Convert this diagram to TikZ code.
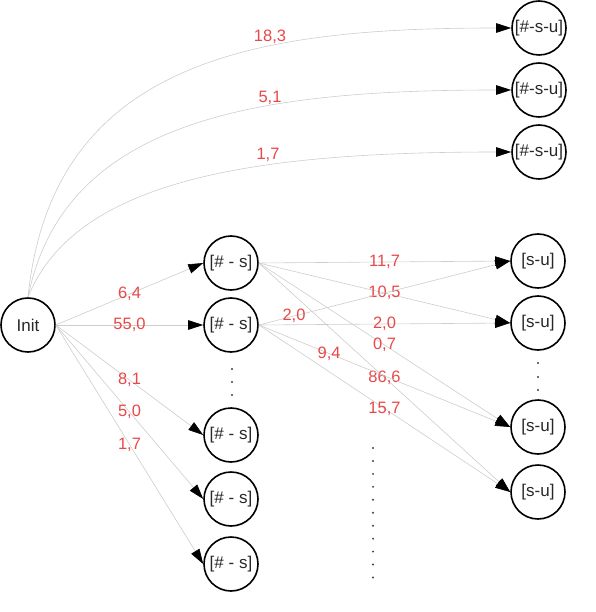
\documentclass[tikz,border=0pt]{standalone}
\usepackage{fontspec}
\setmainfont{Liberation Sans}
\usetikzlibrary{arrows.meta}
\definecolor{lblred}{RGB}{232,72,72}
\definecolor{edgegray}{RGB}{205,205,205}
\definecolor{txtgray}{RGB}{40,40,40}
\begin{document}
\begin{tikzpicture}[x=1pt,y=-1pt,
  state/.style={circle,draw=black,line width=1.6pt,minimum size=54pt,inner sep=0pt,text=txtgray,font=\fontsize{17}{19}\selectfont},
  edge/.style={draw=edgegray,line width=0.6pt,-{Triangle[length=15pt,width=9.5pt,color=black]}},
  lbl/.style={text=lblred,font=\fontsize{16.5}{18}\selectfont,inner sep=1pt},
  vdot/.style={fill=black!75}]
\useasboundingbox (0,0) rectangle (595,612);

\node[state] (init) at (28,325) {Init};
\node[state] (t1) at (539,28) {[\#-s-u]};
\node[state] (t2) at (539,90) {[\#-s-u]};
\node[state] (t3) at (539,152) {[\#-s-u]};

\node[state] (s1) at (231,263) {[\# - s]};
\node[state] (s2) at (231,325) {[\# - s]};
\node[state] (s3) at (231,435) {[\# - s]};
\node[state] (s4) at (231,499) {[\# - s]};
\node[state] (s5) at (231,564) {[\# - s]};

\node[state] (u1) at (538,261) {[s-u]};
\node[state] (u2) at (538,323) {[s-u]};
\node[state] (u3) at (538,427) {[s-u]};
\node[state] (u4) at (538,492) {[s-u]};

% curved edges to the top
\draw[edge] (init.north) .. controls +(24,-240) and +(-250,0) .. (t1.west);
\draw[edge] (init.north) .. controls +(36,-180) and +(-250,0) .. (t2.west);
\draw[edge] (init.north) .. controls +(48,-120) and +(-250,0) .. (t3.west);
\node[lbl] (l1) at (270,37) {18,3};
\node[lbl] (l2) at (270,98) {5,1};
\node[lbl] (l3) at (268,155) {1,7};

% Init to [# - s]
\draw[edge] (init.east) -- node[lbl,midway]{6,4} (s1.west);
\draw[edge] (init.east) -- node[lbl,midway]{55,0} (s2.west);
\draw[edge] (init.east) -- node[lbl,midway]{8,1} (s3.west);
\draw[edge] (init.east) -- node[lbl,midway]{5,0} (s4.west);
\draw[edge] (init.east) -- node[lbl,midway]{1,7} (s5.west);

% [# - s] to [s-u]
\draw[edge] (s1.east) -- node[lbl,midway]{11,7} (u1.west);
\draw[edge] (s1.east) -- node[lbl,midway]{10,5} (u2.west);
\draw[edge] (s1.east) -- node[lbl,midway]{0,7} (u3.west);
\draw[edge] (s1.east) -- node[lbl,midway]{86,6} (u4.west);
\draw[edge] (s2.east) -- node[lbl,pos=0.14]{2,0} (u1.west);
\draw[edge] (s2.east) -- node[lbl,midway]{2,0} (u2.west);
\draw[edge] (s2.east) -- node[lbl,pos=0.28]{9,4} (u3.west);
\draw[edge] (s2.east) -- node[lbl,midway]{15,7} (u4.west);

% dots
\foreach \y in {369,382,395} \fill[vdot] (232,\y) circle (1.1pt);
\foreach \y in {363,377,390} \fill[vdot] (538,\y) circle (1.1pt);
\foreach \i in {0,...,10} \fill[vdot] (373,448+12.95*\i) circle (1.1pt);
\end{tikzpicture}
\end{document}
